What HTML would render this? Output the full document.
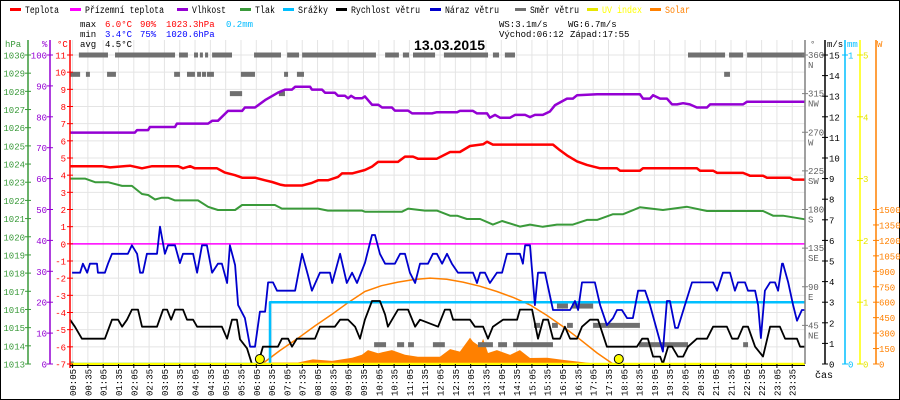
<!DOCTYPE html>
<html><head><meta charset="utf-8"><style>
html,body{margin:0;padding:0;background:#fff;}
svg{display:block;font-family:"Liberation Mono",monospace;}
</style></head><body>
<svg id="chart" width="900" height="400" viewBox="0 0 900 400" xmlns="http://www.w3.org/2000/svg">
<rect x="0.5" y="0.5" width="899" height="399" fill="#fff" stroke="#000"/>
<g id="grid"></g>
<g id="series"></g>
<g id="axes"></g>
<g id="legend" font-size="10"></g>
<g font-size="9">
<text x="80" y="27" fill="#000">max</text>
<text x="105" y="27" fill="#f00">6.0°C</text>
<text x="140" y="27" fill="#f00">90%</text>
<text x="166" y="27" fill="#f00">1023.3hPa</text>
<text x="226" y="27" fill="#0bf">0.2mm</text>
<text x="80" y="37" fill="#000">min</text>
<text x="105" y="37" fill="#00f">3.4°C</text>
<text x="140" y="37" fill="#00f">75%</text>
<text x="166" y="37" fill="#00f">1020.6hPa</text>
<text x="80" y="47" fill="#000">avg</text>
<text x="105" y="47" fill="#000">4.5°C</text>
<text x="499" y="27" fill="#000">WS:3.1m/s</text>
<text x="568" y="27" fill="#000">WG:6.7m/s</text>
<text x="499" y="37" fill="#000">Východ:06:12</text>
<text x="570" y="37" fill="#000">Západ:17:55</text>
</g>
<text x="414" y="50" font-family="Liberation Sans, sans-serif" font-weight="bold" font-size="14" textLength="71">13.03.2015</text>
</svg>
<script>
// ---- data ----
const tempH = [0,1.04,1.31,1.96,2.35,2.68,3.53,3.69,3.92,4.08,4.80,5.06,5.39,5.62,6.04,6.37,6.60,6.86,7.02,7.58,7.90,8.10,8.42,8.75,8.88,9.21,9.63,9.86,10.06,10.71,10.94,11.20,11.36,11.98,12.24,12.41,12.73,13.06,13.49,13.62,13.81,15.77,16.00,16.23,16.56,16.88,17.31,17.86,17.96,18.61,18.71,20.47,20.57,21.00,21.13,21.98,22.20,22.63,22.76,23.51,23.61,24];
const tempV = [4.52,4.52,4.45,4.55,4.4,4.52,4.52,4.4,4.52,4.4,4.4,4.15,4.0,3.85,3.85,3.7,3.6,3.45,3.4,3.4,3.55,3.7,3.7,3.9,4.1,4.1,4.3,4.5,4.77,4.77,5.08,5.08,4.96,4.96,5.2,5.35,5.35,5.7,5.8,5.95,5.78,5.78,5.45,5.15,4.8,4.6,4.4,4.4,4.26,4.26,4.4,4.4,4.26,4.26,4.13,4.13,3.97,3.97,3.85,3.85,3.74,3.74];
const humH = [0,2.12,2.19,2.55,2.61,3.43,3.49,4.51,4.64,4.83,5.16,5.62,5.71,6.04,6.37,6.79,7.02,7.25,7.35,7.84,7.90,8.23,8.33,8.65,8.75,8.98,9.08,9.18,9.31,9.53,9.63,9.86,10.06,10.19,10.51,10.61,11.04,11.17,11.82,11.98,12.64,12.73,13.16,13.29,13.62,13.71,13.88,14.04,14.37,14.53,14.86,15.02,15.18,15.44,15.67,15.84,16.23,16.42,16.56,17.21,18.61,18.71,18.94,19.04,19.27,19.49,19.66,19.82,20.02,20.24,20.47,20.80,20.90,21.98,22.11,24];
const humV = [74.9,74.9,75.7,75.7,76.7,76.7,77.8,77.8,78.7,78.7,81.9,81.9,83,83,85.4,87.8,88.8,88.8,89.7,89.7,88.8,88.8,87.8,87.8,86.8,86.8,86,86.8,86,86,86.6,83.9,83.9,83,83,82,82,81.1,81.1,81.5,81.5,81.9,81.9,81.1,81.1,79.7,80.6,79.7,79.7,80.6,80.6,79.9,80.6,80.6,81.7,83.8,85.9,85.9,87,87.3,87.3,85.9,85.9,87,85.9,85.9,84,84,84.4,84,83,83,84,84,84.9,84.9];
const presH = [0,0.49,0.82,1.24,1.70,2.02,2.35,2.55,2.78,3.00,3.20,3.43,4.18,4.51,4.83,5.39,5.62,6.69,6.92,8.10,8.42,9.53,9.63,10.84,11.04,11.59,11.98,12.41,12.64,12.96,13.39,13.81,14.11,14.69,15.02,15.44,15.90,16.42,16.88,17.21,17.73,18.06,18.61,19.36,20.15,20.80,22.63,22.96,23.28,24];
const presV = [1023.2,1023.2,1023.0,1023.0,1022.8,1022.8,1022.35,1022.3,1022.05,1022.15,1022.15,1022.0,1022.0,1021.65,1021.47,1021.47,1021.75,1021.75,1021.55,1021.55,1021.44,1021.44,1021.38,1021.38,1021.55,1021.44,1021.44,1021.16,1021.16,1020.98,1020.98,1020.67,1020.87,1020.56,1020.67,1020.55,1020.67,1020.67,1020.93,1020.93,1021.24,1021.24,1021.62,1021.47,1021.65,1021.42,1021.42,1021.16,1021.16,1020.96];
const gustH = [0.07,0.33,0.42,0.56,0.65,0.88,0.91,1.14,1.24,1.37,1.89,2.02,2.19,2.29,2.38,2.51,2.84,2.94,3.10,3.20,3.43,3.59,3.69,4.02,4.15,4.31,4.47,4.64,4.83,4.96,5.13,5.22,5.39,5.49,5.71,5.88,6.04,6.20,6.37,6.47,6.63,6.76,7.35,7.58,7.77,7.90,8.16,8.49,8.56,8.82,9.04,9.21,9.37,9.63,9.86,9.96,10.12,10.29,10.61,10.78,10.94,11.10,11.27,11.43,11.69,11.85,11.98,12.15,12.31,12.47,12.67,13.16,13.29,13.39,13.55,13.71,13.94,14.11,14.27,14.69,14.79,14.86,15.02,15.18,15.28,15.51,15.77,16.33,16.49,16.59,16.72,17.14,17.31,17.53,17.73,17.86,18.02,18.19,18.38,18.55,18.78,18.94,19.27,19.36,19.49,19.59,19.76,19.85,20.08,20.31,21.00,21.13,21.32,21.55,21.71,21.81,22.04,22.14,22.37,22.47,22.56,22.69,22.86,23.02,23.12,23.25,23.28,23.45,23.61,23.74,23.90,24];
const gustV = [4.43,4.43,4.87,4.43,4.87,4.87,4.43,4.43,4.87,5.35,5.35,5.76,5.35,4.43,4.43,5.35,5.35,6.67,5.35,5.76,5.76,4.9,5.35,5.35,4.43,5.76,5.76,4.43,4.87,4.87,3.93,5.76,4.8,2.86,2.23,0.84,0.84,2.54,2.54,3.96,3.96,3.56,3.56,5.35,4.3,3.56,4.43,4.43,3.93,5.35,3.93,4.43,3.93,4.9,6.26,6.26,5.35,4.87,4.87,5.35,5.35,4.43,3.93,4.87,4.87,5.35,5.35,4.87,5.35,4.87,4.43,4.43,3.93,4.43,4.43,3.93,4.43,4.43,5.35,5.35,4.87,5.76,5.76,2.86,4.43,4.43,2.62,2.62,3.06,2.62,3.96,3.96,2.86,1.89,2.23,2.62,2.62,2.23,2.23,3.56,3.56,2.86,1.08,0.6,3.06,3.06,1.75,1.75,2.86,3.96,3.96,3.56,4.43,4.43,3.56,3.96,3.96,3.56,3.56,2.86,1.26,3.56,3.96,3.96,3.56,4.87,4.87,3.96,2.86,2.1,2.62,2.62];
const windH = [0,0.16,0.39,1.14,1.37,1.57,1.70,1.86,2.02,2.22,2.35,2.84,3.04,3.17,3.30,3.43,3.69,3.82,4.02,4.15,4.96,5.13,5.29,5.45,5.55,5.78,5.94,6.14,6.30,6.79,6.92,7.12,7.25,7.41,8.00,8.16,8.65,8.82,9.08,9.31,9.47,9.63,9.86,10.12,10.29,10.38,10.71,11.04,11.27,11.43,12.02,12.24,12.41,12.51,13.06,13.22,13.49,13.65,13.81,14.14,14.60,14.69,15.09,15.28,15.45,15.61,15.77,16.00,16.16,16.33,16.56,16.72,16.98,17.24,17.53,18.51,18.68,18.87,19.04,19.27,19.36,19.53,19.66,19.85,20.02,20.18,20.47,20.80,21.00,21.45,21.62,21.81,21.98,22.14,22.37,22.63,22.86,23.18,23.35,23.74,23.84,24];
const windV = [2.15,1.81,1.23,1.23,2.15,2.15,1.81,2.15,2.64,2.64,1.81,1.81,2.64,2.64,2.15,2.64,2.64,2.15,2.15,1.81,1.81,1.23,2.15,2.15,1.2,0.76,0,0,0.84,0.84,1.23,1.23,0.84,1.23,1.23,1.81,1.81,2.15,2.15,1.81,1.23,2.15,3.06,3.06,2.4,1.81,2.64,2.64,1.81,2.15,1.81,2.64,2.64,2.15,2.15,1.81,1.81,1.23,1.81,2.15,2.15,2.64,2.64,1.23,2.15,2.15,1.23,1.23,1.81,1.23,1.23,1.81,2.15,2.15,0.84,0.84,1.23,1.23,0.36,0.36,0,0.84,0.84,0.36,0.36,0.84,1.23,1.23,1.81,1.81,1.23,1.23,1.81,1.81,0.84,0.36,1.81,1.81,1.23,1.23,0.84,0.84];
const rainH = [0,6.53,6.53,24];
const rainV = [0,0,0.2,0.2];
const solarH = [6.47,6.60,7.44,7.93,8.56,9.21,9.53,9.73,10.06,10.51,10.94,11.36,11.92,12.08,12.41,12.73,13.06,13.16,13.39,13.49,13.65,13.94,14.37,14.69,15.02,15.58,16.10,16.98,17.40];
const solarV = [0,15,15,45,30,60,90,135,105,135,90,70,70,70,145,120,255,217,170,245,107,135,88,135,58,60,40,10,0];
const clearH = [6.27,6.85,7.44,8.0,8.56,9.1,9.63,10.17,10.71,11.24,11.76,12.3,12.83,13.38,13.94,14.48,15.02,15.56,16.10,16.65,17.21,17.73];
const clearV = [0,130,250,370,484,600,704,760,795,820,834,822,795,755,704,645,574,475,363,240,107,0];
const groundTemp = 0;
const uvValue = 0;
const sunriseH = 6.2, sunsetH = 17.92;
// wind direction segments: [start hour, end hour, degrees]
const dirStart = [0.29,1.47,3.56,4.05,4.24,4.41,4.64,6.01,7.09,7.58,10.29,10.87,11.20,12.21,13.81,14.20,20.18,21.52,22.11, 0,0.52,1.21,3.40,3.82,4.15,4.31,4.47,5.58,6.99,7.41,21.36, 5.22,6.82, 9.93,10.68,11.04,11.85,13.32,13.98,14.47,18.58,21.98, 15.90,16.39, 15.15,15.74,16.23,17.08, 0];
const dirEnd   = [1.24,3.43,3.85,4.18,4.34,4.51,5.29,6.89,7.48,9.99,10.74,11.07,11.92,13.65,14.01,14.53,21.39,21.98,24.00, 0.33,0.65,1.50,3.59,4.08,4.28,4.44,4.70,6.04,7.12,7.64,21.55, 5.62,7.02, 10.32,10.91,11.23,12.24,13.81,14.27,15.77,20.18,22.14, 16.26,17.08, 15.35,15.93,16.42,18.61, 0.12];
const dirDeg   = [360,360,360,360,360,360,360,360,360,360,360,360,360,360,360,360,360,360,360, 337.5,337.5,337.5,337.5,337.5,337.5,337.5,337.5,337.5,337.5,337.5,337.5, 315,315, 22.5,22.5,22.5,22.5,22.5,22.5,22.5,22.5,22.5, 67.5,67.5, 45,45,45,45, 0];
const timeLabels = ["00:05","00:35","01:05","01:35","02:05","02:35","03:05","03:35","04:05","04:35","05:05","05:35","06:05","06:35","07:05","07:35","08:05","08:35","09:05","09:35","10:05","10:35","11:05","11:35","12:05","12:35","13:05","13:35","14:05","14:35","15:05","15:35","16:05","16:35","17:05","17:35","18:05","18:35","19:05","19:35","20:05","20:35","21:05","21:35","22:05","22:35","23:05","23:35"];
const hpaTicks = [1013,1014,1015,1016,1017,1018,1019,1020,1021,1022,1023,1024,1025,1026,1027,1028,1029,1030];
const pctTicks = [0,10,20,30,40,50,60,70,80,90,100];
const tempTicks = [-7,-6,-5,-4,-3,-2,-1,0,1,2,3,4,5,6,7,8,9,10,11];
const dirTicks = [45,90,135,180,225,270,315,360];
const dirNames = ["NE","E","SE","S","SW","W","NW","N"];
const msTicks = [0,1,2,3,4,5,6,7,8,9,10,11,12,13,14,15];
const mmTicks = [0,1];
const uvTicks = [0,1,2,3,4,5];
const solTicks = [0,150,300,450,600,750,900,1050,1200,1350,1500];

// ---- scales ----
const X0 = 70, XPH = 30.625, YB = 364, YT = 55;
const xH = h => X0 + h * XPH;
const yT = t => YB - (t + 7) * (YB - YT) / 18;
const yPct = p => YB - p * (YB - YT) / 100;
const yP = p => YB - (p - 1013) * (YB - YT) / 17;
const yMS = v => YB - v * (YB - YT) / 15;
const yMM = v => YB - v * (YB - YT) / 1;
const yUV = v => YB - v * (YB - YT) / 5;
const yDir = d => YB - d * (YB - YT) / 360;
const ySol = w => YB - w * (YB - YT) / 3000;

const NS = "http://www.w3.org/2000/svg";
function mk(tag, parent, attrs) {
  const e = document.createElementNS(NS, tag);
  for (const k in attrs) e.setAttribute(k, attrs[k]);
  parent.appendChild(e);
  return e;
}
const grid = document.getElementById('grid');
const series = document.getElementById('series');
const axes = document.getElementById('axes');
const legend = document.getElementById('legend');

timeLabels.forEach((lab, i) => {
  const x = xH(1/12 + i * 0.5);
  const l = mk('line', grid, {x1:x, x2:x, y1:40, y2:YB, stroke:'#e4e4e4', 'stroke-width':1});
  
  
  const tk = mk('line', axes, {x1:x, x2:x, y1:YB, y2:YB+4, stroke:'#000', 'stroke-width':1});
  
  
  const t = mk('text', axes, {transform:`translate(${x+3.5},396) rotate(-90)`, 'font-size':9, fill:'#000'});
  t.textContent = lab;
  
  
});
tempTicks.forEach(t => {
  const y = yT(t);
  const l = mk('line', grid, {x1:X0, x2:805, y1:y, y2:y, stroke:'#e4e4e4', 'stroke-width':1});
  
  
});

function poly(H, V, fy, color, w, name) {
  const pts = H.map((h, i) => xH(h).toFixed(1) + ',' + fy(V[i]).toFixed(1)).join(' ');
  const p = mk('polyline', series, {points:pts, fill:'none', stroke:color, 'stroke-width':w, 'stroke-linejoin':'round'});
  
  
  return p;
}
{
  let pts = xH(solarH[0]).toFixed(1) + ',' + YB + ' ';
  pts += solarH.map((h, i) => xH(h).toFixed(1) + ',' + ySol(solarV[i]).toFixed(1)).join(' ');
  pts += ' ' + xH(solarH[solarH.length-1]).toFixed(1) + ',' + YB;
  const a = mk('polygon', series, {points:pts, fill:'#ff8000', stroke:'none'});
  
  
}
dirDeg.forEach((d, i) => {
  const x1 = xH(dirStart[i]), x2 = xH(dirEnd[i]);
  const r = mk('rect', series, {x:x1, y:yDir(d)-2.5, width:Math.max(3, x2-x1), height:5, fill:'#707070'});
  
  
});
poly(clearH, clearV, ySol, '#ff8000', 1.5, 'solar-theoretical-line');
poly(presH, presV, yP, '#3a9a3a', 2, 'pressure-line');
poly(humH, humV, yPct, '#9400d3', 2.5, 'humidity-line');
poly(tempH, tempV, yT, '#f00', 2.5, 'temperature-line');
{
  const gy = yT(groundTemp);
  const g = mk('line', series, {x1:X0, x2:805, y1:gy, y2:gy, stroke:'#f0f', 'stroke-width':1.5});
  
  
}
poly(rainH, rainV, yMM, '#00bfff', 2.5, 'rain-line');
poly(windH, windV, yMS, '#000', 1.8, 'wind-speed-line');
poly(gustH, gustV, yMS, '#0000cd', 1.8, 'wind-gust-line');
{
  const u = mk('line', series, {x1:X0, x2:805, y1:yUV(uvValue), y2:yUV(uvValue), stroke:'#ffff00', 'stroke-width':2.5});
  
  
  const s1 = mk('circle', series, {cx:xH(sunriseH), cy:359, r:4.5, fill:'#ffff00', stroke:'#000', 'stroke-width':1});
  
  
  const s2 = mk('circle', series, {cx:xH(sunsetH), cy:359, r:4.5, fill:'#ffff00', stroke:'#000', 'stroke-width':1});
  
  
}

function vaxis(x, color, name, y2) {
  const l = mk('line', axes, {x1:x, x2:x, y1:40, y2:y2 || YB, stroke:color, 'stroke-width':1.5});
  
  
}
function ticks(vals, fy, x, color, lx, anchor, name) {
  vals.forEach((v) => {
    const y = fy(v);
    const t = mk('line', axes, {x1:x-3, x2:x+3, y1:y, y2:y, stroke:color, 'stroke-width':1});
    
    
    const tx = mk('text', axes, {x:lx, y:y+3.5, 'font-size':9, fill:color, 'text-anchor':anchor});
    tx.textContent = v;
    
    
  });
}
vaxis(28, '#3a9a3a', 'pressure-axis');
vaxis(50, '#9400d3', 'humidity-axis');
vaxis(70, '#f00', 'temperature-axis', 368);
vaxis(805, '#808080', 'direction-axis');
vaxis(825, '#000', 'wind-speed-axis');
vaxis(845, '#00bfff', 'rain-axis');
vaxis(860, '#ffff00', 'uv-axis');
vaxis(876, '#ff8000', 'solar-axis');
ticks(hpaTicks, yP, 28, '#3a9a3a', 25, 'end', 'pressure-axis');
ticks(pctTicks, yPct, 50, '#9400d3', 47, 'end', 'humidity-axis');
ticks(tempTicks, yT, 70, '#f00', 66, 'end', 'temperature-axis');
ticks(msTicks, yMS, 825, '#000', 829, 'start', 'wind-speed-axis');
ticks(mmTicks, yMM, 845, '#00bfff', 848, 'start', 'rain-axis');
ticks(uvTicks, yUV, 860, '#e6e600', 863, 'start', 'uv-axis');
ticks(solTicks, ySol, 876, '#ff8000', 879, 'start', 'solar-axis');
dirTicks.forEach((d, i) => {
  const y = yDir(d);
  const t = mk('line', axes, {x1:802, x2:808, y1:y, y2:y, stroke:'#808080', 'stroke-width':1});
  
  
  const a = mk('text', axes, {x:808, y:y+3, 'font-size':9, fill:'#606060'});
  a.textContent = d;
  
  
  const b = mk('text', axes, {x:808, y:y+13, 'font-size':9, fill:'#606060'});
  b.textContent = dirNames[i];
  
  
});
const unitHeaders = [["hPa",5,'#3a9a3a'],["%",42,'#9400d3'],["°C",57,'#f00'],["°",810,'#606060'],["m/s",827,'#000'],["mm",847,'#00bfff'],["W",877,'#ff8000']];
unitHeaders.forEach(u => {
  const t = mk('text', axes, {x:u[1], y:47, 'font-size':9, fill:u[2]});
  t.textContent = u[0];
  
  
});
{
  const c = mk('text', axes, {x:815, y:378, 'font-size':10, fill:'#000'});
  c.textContent = 'čas';
  
  
  const bl = mk('line', axes, {x1:X0, x2:805, y1:YB+1.5, y2:YB+1.5, stroke:'#000', 'stroke-width':1});
  
  
}

const legItems = [["Teplota",10,'#f00',34,'#000'],["Přízemní teplota",70,'#f0f',79,'#000'],["Vlhkost",177,'#9400d3',34,'#000'],["Tlak",240,'#3a9a3a',20,'#000'],["Srážky",283,'#00bfff',30,'#000'],["Rychlost větru",336,'#000',69,'#000'],["Náraz větru",430,'#0000cd',54,'#000'],["Směr větru",515,'#707070',49,'#000'],["UV index",587,'#e6e600',40,'#ff0'],["Solar",650,'#ff8000',25,'#ff8000']];
legItems.forEach(it => {
  const r = mk('rect', legend, {x:it[1], y:8, width:11, height:3, fill:it[2]});
  
  
  const t = mk('text', legend, {x:it[1]+15, y:13, fill:it[4], textLength:it[3], lengthAdjust:'spacingAndGlyphs'});
  t.textContent = it[0];
  
  
});
</script>
</body></html>
